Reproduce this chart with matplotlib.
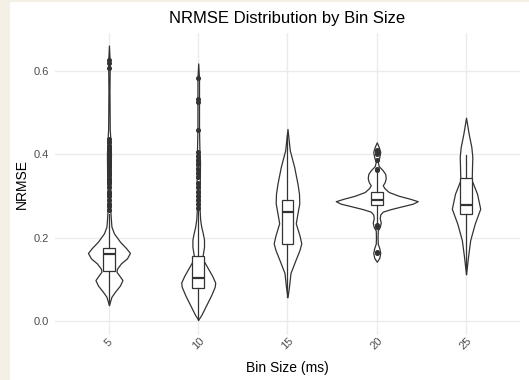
import numpy as np
import matplotlib.pyplot as plt
from matplotlib.patches import Rectangle


plt.rcParams["font.family"] = ["Liberation Sans", "DejaVu Sans"]

BIN_SIZES = ["5", "10", "15", "20", "25"]

# violin outlines: NRMSE level and relative density
V5_Y = [0.038, 0.058, 0.070, 0.085, 0.098, 0.110, 0.118, 0.125, 0.138, 0.150,
        0.163, 0.175, 0.190, 0.210, 0.226, 0.241, 0.26, 0.30, 0.35, 0.40,
        0.43, 0.46, 0.55, 0.62, 0.66]
V5_D = [0, 2.5, 6, 11, 13.5, 10, 7.5, 8, 12, 18,
        21, 17, 11, 5, 2.5, 2, 1.5, 1.3, 1.8, 2.0,
        1.5, 0.8, 0.5, 0.8, 0]

V10_Y = [0.003, 0.014, 0.038, 0.062, 0.082, 0.092, 0.108, 0.127, 0.146, 0.158,
         0.178, 0.195, 0.211, 0.226, 0.242, 0.27, 0.32, 0.38, 0.41, 0.46,
         0.53, 0.58, 0.617]
V10_D = [0, 3, 8, 13, 16.5, 17, 14, 9.5, 5, 4.5,
         5.8, 5.8, 4.5, 3, 2, 1.3, 1.5, 1.8, 1.2, 0.8,
         0.8, 0.8, 0]

V15_Y = [0.057, 0.082, 0.115, 0.146, 0.170, 0.186, 0.205, 0.234, 0.258, 0.282,
         0.305, 0.329, 0.369, 0.409, 0.460]
V15_D = [0, 1.5, 3, 8, 12, 13.8, 12, 8.3, 10, 11.8,
         11.5, 10, 6.7, 2.3, 0]

V20_Y = [0.142, 0.151, 0.163, 0.175, 0.185, 0.200, 0.217, 0.225, 0.236, 0.246,
         0.255, 0.262, 0.268, 0.274, 0.281, 0.287, 0.293, 0.300, 0.309, 0.318,
         0.325, 0.333, 0.342, 0.352, 0.361, 0.371, 0.381, 0.392, 0.405, 0.417,
         0.428]
V20_D = [0, 2.5, 3.5, 2.5, 1, 0.8, 1, 3, 4, 3,
         3.5, 6, 14, 24, 36, 41, 33, 22, 12, 7.8,
         6, 8, 9, 8.5, 6, 2, 1, 2.5, 3.5, 2,
         0]

V25_Y = [0.112, 0.154, 0.194, 0.233, 0.269, 0.305, 0.337, 0.369, 0.393, 0.417,
         0.448, 0.487]
V25_D = [0, 2, 4.2, 8.7, 14.2, 11, 5.7, 6, 6.3, 5.3, 2.7, 0]

# box summaries
Q1 = [0.119, 0.079, 0.184, 0.277, 0.257]
MEDIAN = [0.160, 0.103, 0.262, 0.291, 0.279]
Q3 = [0.174, 0.155, 0.290, 0.309, 0.343]
WHISKER_LO = [0.038, 0.003, 0.057, 0.232, 0.112]
WHISKER_HI = [0.257, 0.265, 0.445, 0.355, 0.397]

OUTLIERS_5 = [0.265, 0.275, 0.28, 0.29, 0.30, 0.305, 0.31, 0.32, 0.33, 0.335,
              0.34, 0.35, 0.355, 0.36, 0.37, 0.375, 0.38, 0.385, 0.39, 0.395,
              0.40, 0.405, 0.41, 0.415, 0.42, 0.428, 0.435, 0.605, 0.618, 0.625]
OUTLIERS_10 = [0.27, 0.28, 0.29, 0.30, 0.31, 0.32, 0.33, 0.345, 0.355, 0.365,
               0.375, 0.385, 0.395, 0.405, 0.457, 0.524, 0.533, 0.582]
OUTLIERS_15 = []
OUTLIERS_20 = [0.162, 0.166, 0.225, 0.229, 0.361, 0.365, 0.385, 0.40, 0.405, 0.41]
OUTLIERS_25 = []

DENSITY_SCALE = 1 / 89.3
LINE = "#333333"


def main():
    fig = plt.figure(figsize=(5.29, 3.80), dpi=100, facecolor="#f4f0e6")
    fig.patches.append(Rectangle((10 / 529, 0), 1, 378 / 380,
                                 transform=fig.transFigure,
                                 facecolor="white", zorder=-1))
    ax = fig.add_axes([0.1047, 0.1184, 0.8775, 0.7948])

    positions = np.arange(1, len(BIN_SIZES) + 1)
    profiles = [(V5_Y, V5_D), (V10_Y, V10_D), (V15_Y, V15_D),
                (V20_Y, V20_D), (V25_Y, V25_D)]
    outliers = [OUTLIERS_5, OUTLIERS_10, OUTLIERS_15, OUTLIERS_20, OUTLIERS_25]

    vpstats = []
    widths = []
    for (ys, ds), med in zip(profiles, MEDIAN):
        ys = np.array(ys)
        ds = np.array(ds, dtype=float)
        vpstats.append({"coords": ys, "vals": ds, "mean": med, "median": med,
                        "min": ys.min(), "max": ys.max()})
        widths.append(2 * ds.max() * DENSITY_SCALE)

    parts = ax.violin(vpstats, positions=positions, widths=widths,
                      showextrema=False)
    for body in parts["bodies"]:
        body.set_facecolor("white")
        body.set_edgecolor(LINE)
        body.set_alpha(1)
        body.set_linewidth(0.9)
        body.set_zorder(2)

    box_stats = []
    for i in range(len(BIN_SIZES)):
        box_stats.append({"med": MEDIAN[i], "q1": Q1[i], "q3": Q3[i],
                          "whislo": WHISKER_LO[i], "whishi": WHISKER_HI[i],
                          "fliers": outliers[i]})
    ax.bxp(box_stats, positions=positions, widths=0.13, showcaps=False,
           patch_artist=True, zorder=3,
           boxprops=dict(facecolor="white", edgecolor=LINE, linewidth=0.9),
           medianprops=dict(color=LINE, linewidth=1.6),
           whiskerprops=dict(color=LINE, linewidth=0.9),
           flierprops=dict(marker="o", markersize=2.6, markerfacecolor=LINE,
                           markeredgecolor=LINE))

    ax.set_xlim(0.4, 5.6)
    ax.set_ylim(-0.0336, 0.690)
    ax.set_xticks(positions)
    ax.set_xticklabels(BIN_SIZES, rotation=45, ha="center", va="center")
    ax.set_yticks([0.0, 0.2, 0.4, 0.6])
    ax.set_yticklabels(["0.0", "0.2", "0.4", "0.6"])
    ax.tick_params(axis="x", length=0, pad=5.8, labelsize=8, labelcolor="#4d4d4d")
    ax.tick_params(axis="y", length=0, pad=4.6, labelsize=8, labelcolor="#4d4d4d")

    ax.grid(color="#ebebeb", linewidth=1)
    ax.set_axisbelow(True)
    for spine in ax.spines.values():
        spine.set_visible(False)

    ax.set_title("NRMSE Distribution by Bin Size", fontsize=12, pad=7.2)
    ax.set_xlabel("Bin Size (ms)", fontsize=10, va="center")
    ax.xaxis.set_label_coords(0.5, -0.109)
    ax.set_ylabel("NRMSE", fontsize=10, va="center")
    ax.yaxis.set_label_coords(-0.072, 0.5)

    fig.savefig("out.png", dpi=100, facecolor=fig.get_facecolor())
    plt.close(fig)


if __name__ == "__main__":
    main()
